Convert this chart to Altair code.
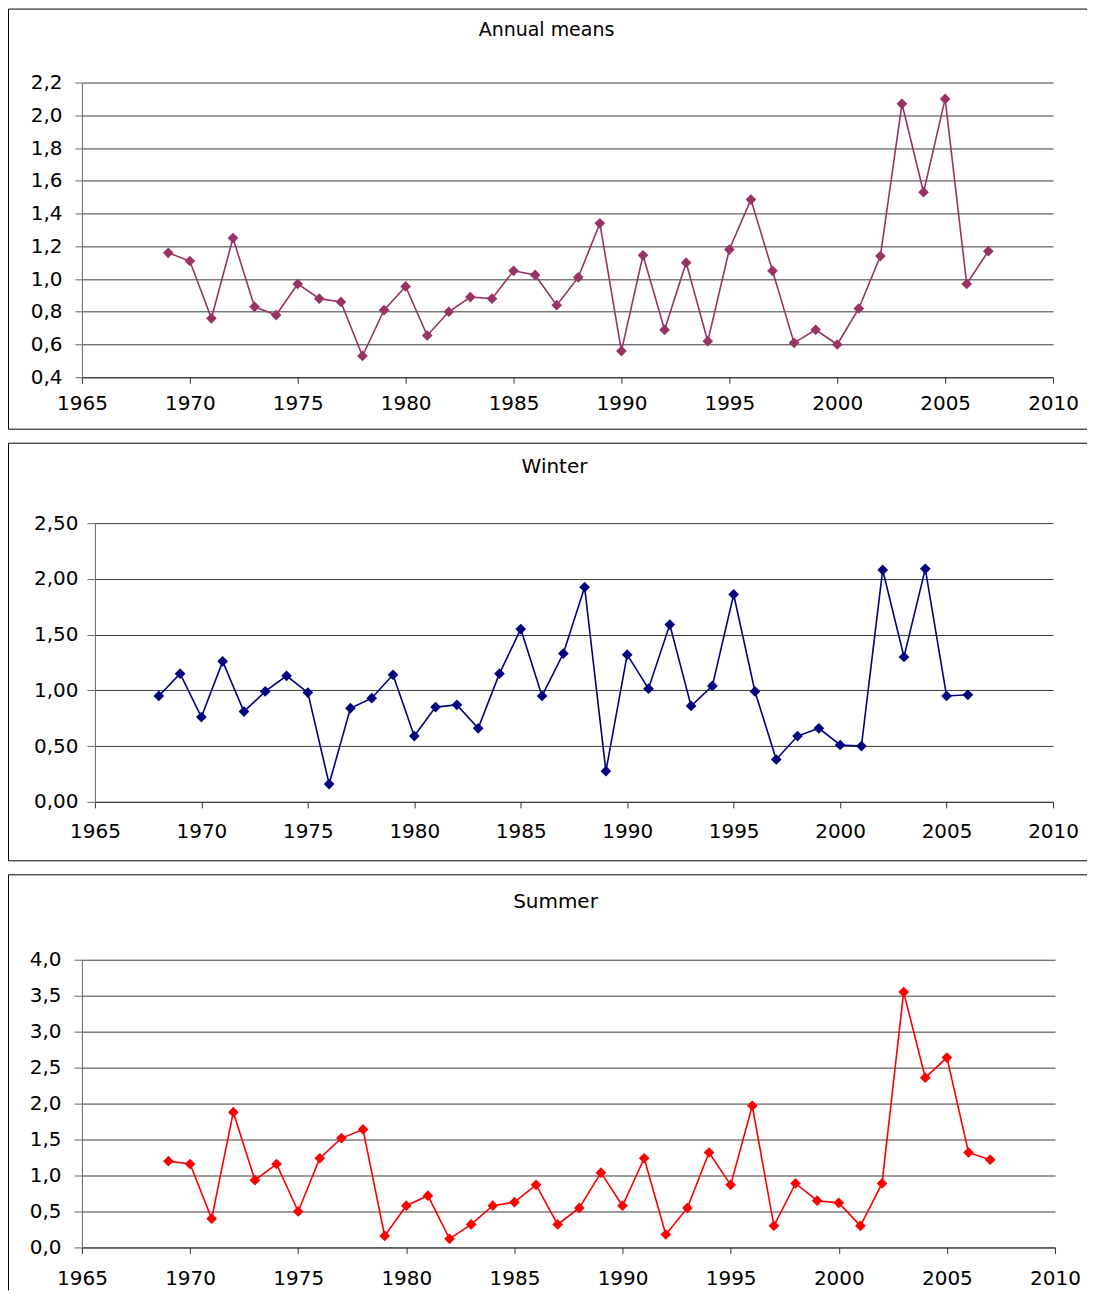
import altair as alt
import pandas as pd

# ---------------- data ----------------
annual_years = list(range(1969, 2008))
annual_values = [1.16, 1.11, 0.76, 1.25, 0.83, 0.78, 0.97, 0.88, 0.86, 0.53,
                 0.81, 0.955, 0.655, 0.80, 0.89, 0.88, 1.05, 1.025, 0.84, 1.01,
                 1.34, 0.56, 1.145, 0.69, 1.10, 0.62, 1.18, 1.485, 1.05, 0.61,
                 0.69, 0.60, 0.82, 1.14, 2.07, 1.53, 2.10, 0.97, 1.17]

winter_years = list(range(1968, 2007))
winter_values = [0.95, 1.15, 0.76, 1.26, 0.81, 0.99, 1.13, 0.98, 0.16, 0.84,
                 0.93, 1.14, 0.59, 0.85, 0.87, 0.66, 1.15, 1.55, 0.95, 1.33,
                 1.925, 0.275, 1.32, 1.015, 1.59, 0.86, 1.04, 1.86, 0.99, 0.38,
                 0.59, 0.66, 0.51, 0.50, 2.08, 1.30, 2.09, 0.95, 0.96]

summer_years = list(range(1969, 2008))
summer_values = [1.20, 1.16, 0.40, 1.88, 0.935, 1.16, 0.50, 1.24, 1.52, 1.64,
                 0.16, 0.58, 0.72, 0.12, 0.32, 0.58, 0.63, 0.87, 0.32, 0.55,
                 1.04, 0.58, 1.24, 0.18, 0.55, 1.32, 0.87, 1.97, 0.30, 0.89,
                 0.65, 0.62, 0.30, 0.89, 3.55, 2.36, 2.64, 1.32, 1.22]

x_ticks = [1965, 1970, 1975, 1980, 1985, 1990, 1995, 2000, 2005, 2010]
annual_y_ticks = [0.4, 0.6, 0.8, 1.0, 1.2, 1.4, 1.6, 1.8, 2.0, 2.2]
winter_y_ticks = [0.0, 0.5, 1.0, 1.5, 2.0, 2.5]
summer_y_ticks = [0.0, 0.5, 1.0, 1.5, 2.0, 2.5, 3.0, 3.5, 4.0]

titles = ["Annual means", "Winter", "Summer"]
colors = ["#993366", "#000080", "#FF0000"]

FONT = "DejaVu Sans"
one = pd.DataFrame({"k": [0]})


def panel(years, values, color, title, yticks, decimals,
          view_w, view_h, x_range, y_range, y_axis_offset, x_axis_offset,
          title_pos, box, ytick_size, ylabel_pad, xlabel_pad,
          label_size, title_size):
    df = pd.DataFrame({"year": years, "value": values})
    fmt = f".{decimals}f"
    line = alt.Chart(df).mark_line(
        color=color, strokeWidth=1.6,
        point=alt.OverlayMarkDef(shape="diamond", filled=True, size=115,
                                 color=color, strokeWidth=0)
    ).encode(
        x=alt.X("year:Q",
                scale=alt.Scale(domain=[x_ticks[0], x_ticks[-1]], nice=False,
                                zero=False, range=x_range),
                axis=alt.Axis(values=x_ticks, format="d", grid=False, title=None,
                              tickSize=6, labelPadding=xlabel_pad, labelFlush=False,
                              labelFont=FONT, labelFontSize=label_size,
                              labelColor="black", domainColor="#333",
                              tickColor="#333", labelOverlap=False,
                              offset=x_axis_offset)),
        y=alt.Y("value:Q",
                scale=alt.Scale(domain=[yticks[0], yticks[-1]], nice=False,
                                zero=False, range=y_range),
                axis=alt.Axis(values=yticks, title=None,
                              labelExpr=f"replace(format(datum.value, '{fmt}'), '.', ',')",
                              grid=True, gridColor="#3a3a3a", gridWidth=1,
                              tickSize=ytick_size, labelPadding=ylabel_pad,
                              labelFlush=False, labelFont=FONT,
                              labelFontSize=label_size, labelColor="black",
                              domainColor="#666", tickColor="#666",
                              labelOverlap=False, offset=y_axis_offset)),
    )
    ttl = alt.Chart(pd.DataFrame({"t": [title]})).mark_text(
        font=FONT, fontSize=title_size, color="black",
        align="center", baseline="middle"
    ).encode(text="t:N", x=alt.value(title_pos[0]), y=alt.value(title_pos[1]))

    left, top, right, bottom, draw_bottom = box
    rules = [
        alt.Chart(one).mark_rule(color="black", strokeWidth=1).encode(
            x=alt.value(left), x2=alt.value(right), y=alt.value(top)),
        alt.Chart(one).mark_rule(color="black", strokeWidth=1).encode(
            x=alt.value(left), y=alt.value(top), y2=alt.value(bottom)),
    ]
    if draw_bottom:
        rules.append(alt.Chart(one).mark_rule(color="black", strokeWidth=1).encode(
            x=alt.value(left), x2=alt.value(right), y=alt.value(bottom)))
    return alt.layer(line, ttl, *rules).properties(width=view_w, height=view_h)


# panel 1: plot 81..1053 x 81..376
p1 = panel(annual_years, annual_values, colors[0], titles[0], annual_y_ticks, 1,
           972, 295, [0, 972], [295, 0], 0, 0,
           (465, -53), (-73.5, -73.5, 1006, 347, True),
           7, 13, 10, 20, 19)
# panel 2: plot 94..1053 x 522..801 (view starts at x=81, 12px extra height)
p2 = panel(winter_years, winter_values, colors[1], titles[1], winter_y_ticks, 2,
           972, 291, [13, 972], [279, 0], -13, -12,
           (473, -56), (-73.5, -80, 1006, 338, True),
           8, 9, 14, 20, 20)
# panel 3: plot 81..1055 x 959..1247
p3 = panel(summer_years, summer_values, colors[2], titles[2], summer_y_ticks, 1,
           974, 288, [0, 974], [288, 0], 0, 0,
           (474, -58), (-73.5, -85, 1006, 331, False),
           8, 13, 15, 20, 20)

chart = alt.vconcat(p1, p2, p3, spacing=146, bounds="flush").properties(
    padding=0, background="white"
).configure_view(stroke=None)

chart.save("out.html", embed_options={"renderer": "svg", "actions": False})
